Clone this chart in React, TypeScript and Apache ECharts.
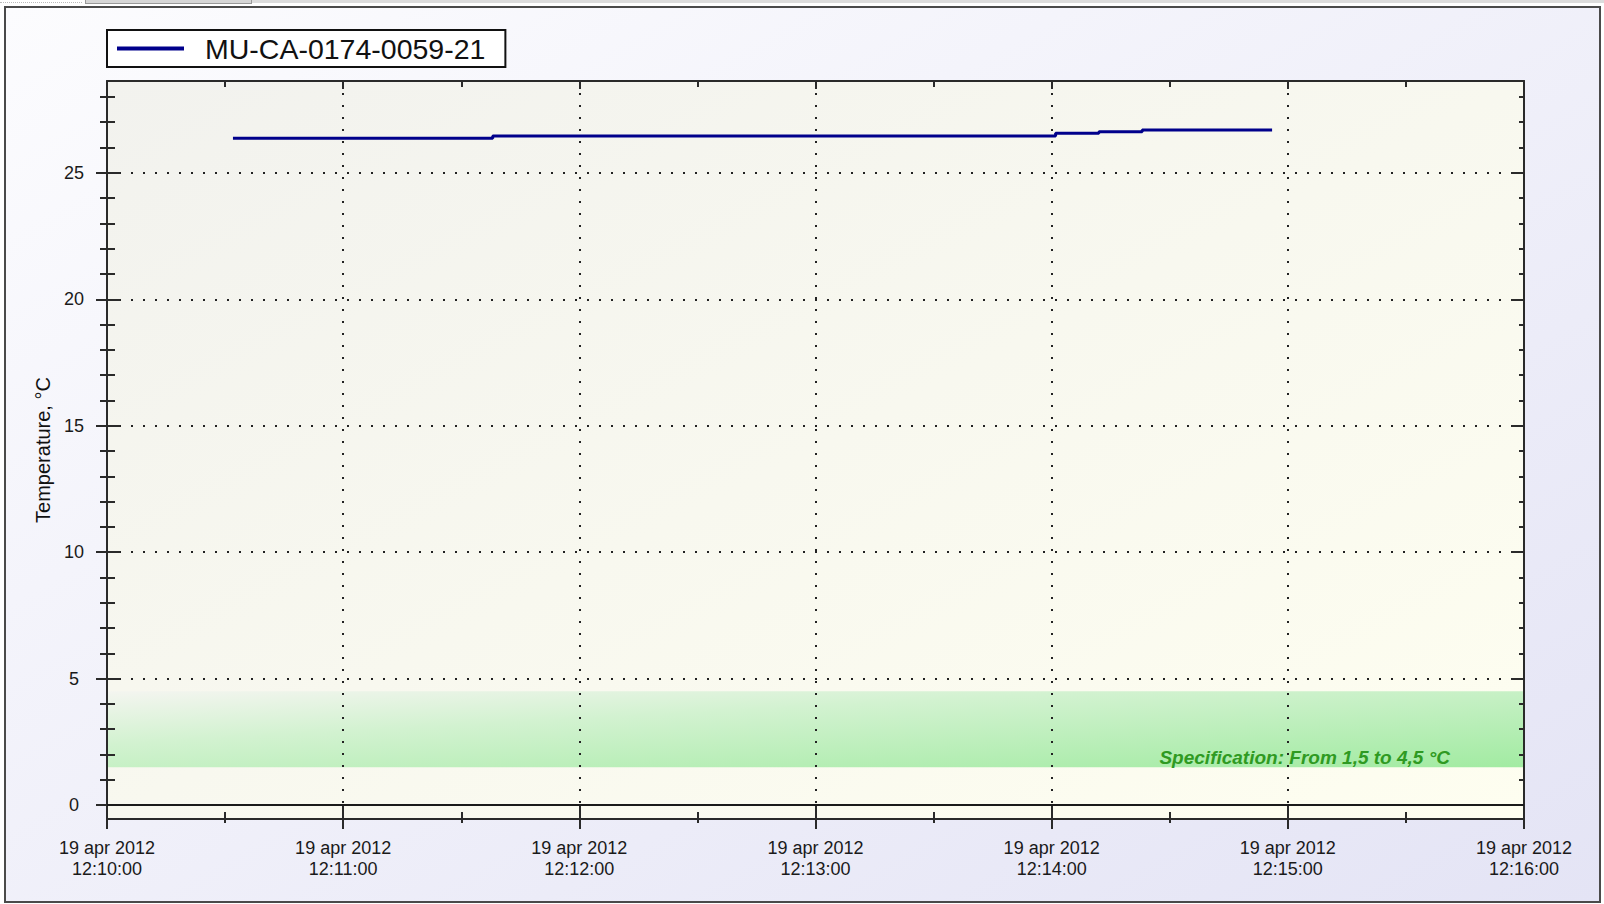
import React, { useEffect, useRef } from "react";
import * as echarts from "echarts";

// ---- data ----
const START_TIME = "12:10:00";
const DATE_LABEL = "19 apr 2012";
const X_SPAN_SEC = 360;
const X_TICK_SEC = 60;
const SERIES_NAME = "MU-CA-0174-0059-21";
const times = ["12:10:32", "12:11:05", "12:11:38", "12:13:50", "12:14:01", "12:14:12", "12:14:23", "12:14:56"];
const temps = [26.37, 26.37, 26.46, 26.46, 26.56, 26.62, 26.69, 26.69];
const Y_TICKS = [0, 5, 10, 15, 20, 25];
const Y_MIN = -0.55;
const Y_MAX = 28.63;
const SPEC_LOW = 1.5;
const SPEC_HIGH = 4.5;
const SPEC_TEXT = "Specification: From 1,5 to 4,5 °C";
const Y_NAME = "Temperature, °C";

const toSec = (t: string) => {
  const [h, m, s] = t.split(":").map(Number);
  return h * 3600 + m * 60 + s;
};
const START_SEC = toSec(START_TIME);
const pad = (n: number) => String(n).padStart(2, "0");
const fmtTime = (offset: number) => {
  const t = START_SEC + Math.round(offset);
  return `${pad(Math.floor(t / 3600))}:${pad(Math.floor((t % 3600) / 60))}:${pad(t % 60)}`;
};

const FONT = "'Liberation Sans', Arial, sans-serif";
const AX = "#2a2a2a";

export default function App() {
  const ref = useRef<HTMLDivElement>(null);
  useEffect(() => {
    if (!ref.current) return;
    const chart = echarts.init(ref.current, undefined, { renderer: "svg" });
    const data = times.map((t, i) => [toSec(t) - START_SEC, temps[i]]);
    const dotted = { color: "#222", width: 2, type: [2, 10] as any };
    const xBase = { type: "value", min: 0, max: X_SPAN_SEC, interval: X_TICK_SEC, z: 2 };
    const yBase = { type: "value", min: Y_MIN, max: Y_MAX, z: 2 };
    const tickStyle = { color: AX, width: 2 };
    chart.setOption({
      animation: false,
      backgroundColor: "transparent",
      textStyle: { fontFamily: FONT },
      legend: {
        data: [SERIES_NAME],
        left: 107,
        top: 30,
        orient: "horizontal",
        backgroundColor: "#ffffff",
        borderColor: "#111",
        borderWidth: 2,
        borderRadius: 0,
        padding: [4, 20, 4, 10],
        icon: "rect",
        itemWidth: 67,
        itemHeight: 4,
        textStyle: { fontSize: 28.5, color: "#111", fontFamily: FONT, padding: [0, 0, 0, 16] },
      },
      grid: {
        left: 107,
        top: 81,
        width: 1417,
        height: 738,
        show: true,
        borderWidth: 0,
        backgroundColor: new echarts.graphic.LinearGradient(0, 0, 1, 1, [
          { offset: 0, color: "#f2f2ee" },
          { offset: 1, color: "#fefef0" },
        ]),
      },
      xAxis: [
        {
          ...xBase,
          position: "bottom",
          axisLine: { show: true, onZero: false, lineStyle: { color: AX, width: 2 } },
          axisTick: { show: true, inside: false, length: 10, lineStyle: tickStyle },
          minorTick: { show: true, splitNumber: 2, length: 4, lineStyle: tickStyle },
          axisLabel: {
            show: true,
            margin: 18,
            fontSize: 18,
            lineHeight: 21,
            color: "#1a1a1a",
            fontFamily: FONT,
            showMinLabel: true,
            showMaxLabel: true,
            formatter: (v: number) => `${DATE_LABEL}\n${fmtTime(v)}`,
          },
          splitLine: { show: true, lineStyle: dotted },
        },
        {
          ...xBase,
          position: "bottom",
          axisLine: { show: false, onZero: false },
          axisTick: { show: true, inside: true, length: 14, lineStyle: tickStyle },
          minorTick: { show: true, splitNumber: 2, length: 7, lineStyle: tickStyle },
          axisLabel: { show: false },
          splitLine: { show: false },
        },
        {
          ...xBase,
          position: "top",
          axisLine: { show: true, onZero: false, lineStyle: { color: AX, width: 2 } },
          axisTick: { show: true, inside: true, length: 8, lineStyle: tickStyle },
          minorTick: { show: true, splitNumber: 2, length: 6, lineStyle: tickStyle },
          axisLabel: { show: false },
          splitLine: { show: false },
        },
      ],
      yAxis: [
        {
          ...yBase,
          position: "left",
          name: Y_NAME,
          nameLocation: "middle",
          nameGap: 54,
          nameTextStyle: { fontSize: 20, color: "#111", fontFamily: FONT },
          axisLine: { show: true, onZero: false, lineStyle: { color: AX, width: 2 } },
          axisTick: { show: true, inside: false, length: 11, lineStyle: tickStyle, customValues: Y_TICKS },
          minorTick: { show: true, splitNumber: 5, length: 7, lineStyle: tickStyle },
          axisLabel: {
            show: true,
            customValues: Y_TICKS,
            align: "center",
            margin: 33,
            fontSize: 18,
            color: "#1a1a1a",
            fontFamily: FONT,
            formatter: (v: number) => (Math.abs(v % 5) < 1e-6 ? String(v) : ""),
          },
          splitLine: { show: true, lineStyle: dotted },
        },
        {
          ...yBase,
          position: "left",
          axisLine: { show: false, onZero: false },
          axisTick: { show: true, inside: true, length: 13, lineStyle: tickStyle, customValues: Y_TICKS },
          minorTick: { show: true, splitNumber: 5, length: 8, lineStyle: tickStyle },
          axisLabel: { show: false },
          splitLine: { show: false },
        },
        {
          ...yBase,
          position: "right",
          axisLine: { show: true, onZero: false, lineStyle: { color: AX, width: 2 } },
          axisTick: { show: true, inside: true, length: 13, lineStyle: tickStyle, customValues: Y_TICKS },
          minorTick: { show: true, splitNumber: 5, length: 5, lineStyle: tickStyle },
          axisLabel: { show: false },
          splitLine: { show: false },
        },
      ],
      series: [
        {
          type: "line",
          name: "spec",
          data: [],
          xAxisIndex: 0,
          yAxisIndex: 0,
          z: 1,
          silent: true,
          markArea: {
            silent: true,
            itemStyle: {
              color: new echarts.graphic.LinearGradient(0, 0, 1, 1, [
                { offset: 0, color: "#f4f5f0" },
                { offset: 0.35, color: "#d2f2d0" },
                { offset: 1, color: "#a2eba2" },
              ]),
            },
            label: {
              show: true,
              position: "insideBottomRight",
              distance: 0,
              padding: [0, 74, 0, 0],
              color: "#2f9a22",
              fontSize: 19,
              fontStyle: "italic",
              fontWeight: "bold",
              fontFamily: FONT,
            },
            data: [[{ yAxis: SPEC_LOW, name: SPEC_TEXT }, { yAxis: SPEC_HIGH }]],
          },
          markLine: {
            silent: true,
            symbol: ["none", "none"],
            label: { show: false },
            lineStyle: { color: "#1a1a1a", width: 2, type: "solid" },
            data: [{ yAxis: 0 }],
          },
        },
        {
          type: "line",
          name: SERIES_NAME,
          data,
          xAxisIndex: 0,
          yAxisIndex: 0,
          step: "end",
          showSymbol: false,
          symbol: "none",
          color: "#00008b",
          itemStyle: { color: "#00008b" },
          lineStyle: { color: "#00008b", width: 3 },
          z: 3,
        },
      ],
    });
    return () => chart.dispose();
  }, []);

  return (
    <div style={{ position: "fixed", left: 0, top: 0, width: 1604, height: 904, background: "#ffffff", overflow: "hidden" }}>
      <div style={{ position: "absolute", left: 0, top: 0, width: 82, height: 2, borderBottom: "1px dotted #bbb" }} />
      <div style={{ position: "absolute", left: 85, top: 0, width: 167, height: 4, background: "#d6d6d6", border: "1px solid #9a9a9a", borderTop: "none", boxSizing: "border-box" }} />
      <div style={{ position: "absolute", left: 252, top: 0, width: 1352, height: 3, background: "#dcdcdc" }} />
      <div
        style={{
          position: "absolute",
          left: 4,
          top: 6,
          width: 1597,
          height: 897,
          boxSizing: "border-box",
          border: "2px solid #4a4a4a",
          background: "linear-gradient(to bottom right, #fcfcfe, #e4e4f5)",
        }}
      />
      <div ref={ref} style={{ position: "absolute", left: 0, top: 0, width: 1604, height: 904 }} />
    </div>
  );
}
